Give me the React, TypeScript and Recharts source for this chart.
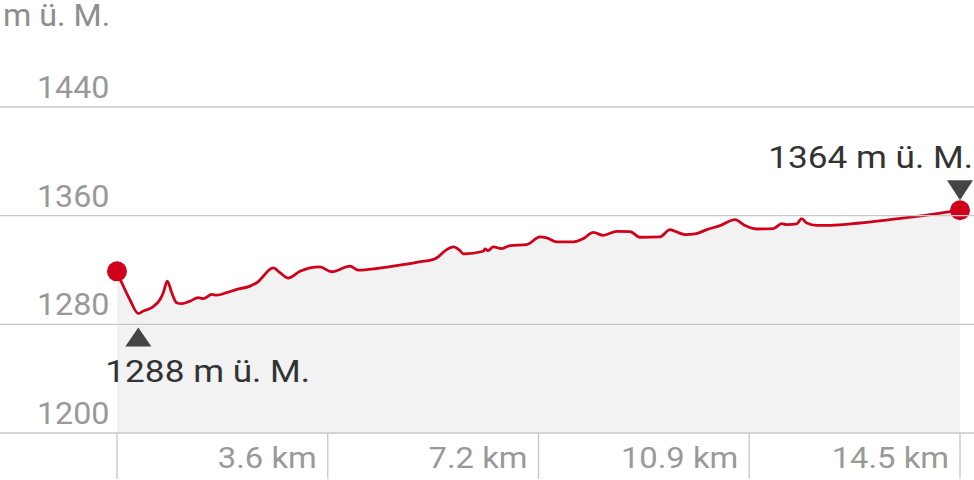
import React from 'react';
import { ComposedChart, Area, XAxis, YAxis, ReferenceDot, Customized } from 'recharts';

const distanceKm = [0, 0.08, 0.22, 0.366, 0.452, 0.596, 0.739, 0.795, 0.864, 0.94, 1.025, 1.111, 1.254, 1.396, 1.482, 1.627, 1.713, 1.884, 2.056, 2.285, 2.4, 2.685, 2.8, 2.942, 3.143, 3.487, 3.688, 4.002, 4.145, 4.461, 4.804, 5.148, 5.462, 5.663, 5.777, 5.892, 5.948, 6.292, 6.321, 6.373, 6.464, 6.608, 6.751, 7.037, 7.266, 7.381, 7.553, 7.838, 8.01, 8.181, 8.353, 8.584, 8.812, 8.984, 9.327, 9.499, 9.585, 9.757, 9.929, 10.13, 10.358, 10.616, 10.788, 10.988, 11.273, 11.418, 11.503, 11.675, 11.761, 11.847, 12.019, 12.247, 12.763, 13.278, 13.85, 14.48];
const elevationM = [1319, 1310.8, 1298.3, 1288, 1289.8, 1292.3, 1298.3, 1303.3, 1311.8, 1303.3, 1295.9, 1295.2, 1297.1, 1299.6, 1298.9, 1302.0, 1301.5, 1303.3, 1305.7, 1308.1, 1310.6, 1321.6, 1318, 1314.1, 1319.1, 1322.3, 1318.7, 1322.8, 1319.9, 1321.1, 1323.3, 1325.7, 1328.2, 1335.0, 1337.0, 1334.3, 1331.9, 1333.8, 1335.6, 1334.3, 1337.0, 1335.8, 1338.0, 1338.7, 1344.4, 1343.6, 1340.7, 1340.7, 1343.1, 1347.7, 1345.5, 1348.5, 1348.3, 1344.1, 1344.4, 1349.7, 1348.5, 1346.1, 1346.6, 1349.7, 1352.7, 1357.1, 1352.7, 1350.2, 1350.5, 1354.1, 1353.4, 1353.9, 1357.8, 1354.6, 1352.9, 1352.9, 1354.6, 1357.1, 1360.0, 1364];

const yTicks = [1200, 1280, 1360, 1440];
const xTicks = [0, 3.62, 7.24, 10.86, 14.48];
const xTickLabels = ['', '3.6 km', '7.2 km', '10.9 km', '14.5 km'];
const unitLabel = 'm ü. M.';
const minPoint = { km: 0.366, m: 1288, label: '1288 m ü. M.' };
const maxPoint = { km: 14.48, m: 1364, label: '1364 m ü. M.' };

const data = distanceKm.map((d, i) => ({ km: d, m: elevationM[i] }));

const FONT = 'Roboto, sans-serif';
const RED = '#d0021b';

const SText = ({ x, y, sx, size, fill, anchor, children }: any) => (
  <g transform={`translate(${x},${y}) scale(${sx},1)`}>
    <text x={0} y={0} fill={fill} fontSize={size} fontFamily={FONT} textAnchor={anchor}>
      {children}
    </text>
  </g>
);

const YTick = (props: any) => {
  const { y, payload } = props;
  return (
    <g>
      <line x1={0} x2={974} y1={y} y2={y} stroke="#c8c8c8" strokeWidth={1.3} />
      <SText x={37} y={y - 9} sx={1.04} size={31} fill="#999" anchor="start">
        {payload.value}
      </SText>
    </g>
  );
};

const XTick = (props: any) => {
  const { x, y, index } = props;
  return (
    <g>
      <line x1={x} x2={x} y1={y} y2={y + 46} stroke="#c8c8c8" strokeWidth={1.3} />
      <SText x={x - 11} y={y + 35} sx={1.13} size={29} fill="#999" anchor="end">
        {xTickLabels[index]}
      </SText>
    </g>
  );
};

const EndDot = (props: any) => {
  const { cx, cy, index } = props;
  if (index === 0 || index === data.length - 1) {
    return <circle key={`d${index}`} cx={cx} cy={cy} r={10} fill={RED} stroke="none" />;
  }
  return <g key={`d${index}`} />;
};

const MinMarker = (props: any) => {
  const { cx, cy } = props;
  return (
    <g>
      <path d={`M${cx},${cy + 14} L${cx + 13},${cy + 33} L${cx - 13},${cy + 33} Z`} fill="#444" />
      <SText x={cx - 33} y={cy + 69} sx={1.1} size={32} fill="#333" anchor="start">
        {minPoint.label}
      </SText>
    </g>
  );
};

const MaxMarker = (props: any) => {
  const { cx, cy } = props;
  return (
    <g>
      <path d={`M${cx},${cy - 10} L${cx + 13},${cy - 30} L${cx - 13},${cy - 30} Z`} fill="#444" />
      <SText x={cx + 13} y={cy - 42} sx={1.1} size={32} fill="#333" anchor="end">
        {maxPoint.label}
      </SText>
    </g>
  );
};

const UnitLabel = () => (
  <SText x={3} y={26} sx={1.04} size={31} fill="#8e8e8e" anchor="start">
    {unitLabel}
  </SText>
);

export default function App() {
  return (
    <div style={{ position: 'absolute', left: 0, top: 0, width: 974, height: 480, background: '#fff' }}>
      <ComposedChart width={974} height={480} data={data} margin={{ top: 107, right: 14, bottom: 0, left: 0 }}>
        <Area
          type="monotone"
          dataKey="m"
          stroke={RED}
          strokeWidth={2.8}
          fill="#f2f2f2"
          fillOpacity={1}
          baseValue={1200}
          dot={EndDot}
          activeDot={false}
          isAnimationActive={false}
        />
        <XAxis
          dataKey="km"
          type="number"
          domain={[0, 14.48]}
          ticks={xTicks}
          axisLine={false}
          tickLine={false}
          tickSize={0}
          tickMargin={0}
          height={47}
          tick={XTick}
          interval={0}
        />
        <YAxis
          type="number"
          domain={[1200, 1440]}
          ticks={yTicks}
          axisLine={false}
          tickLine={false}
          width={117}
          tick={YTick}
          interval={0}
        />
        <ReferenceDot x={minPoint.km} y={minPoint.m} r={0} shape={MinMarker} ifOverflow="visible" />
        <ReferenceDot x={maxPoint.km} y={maxPoint.m} r={0} shape={MaxMarker} ifOverflow="visible" />
        <Customized component={UnitLabel} />
      </ComposedChart>
    </div>
  );
}
